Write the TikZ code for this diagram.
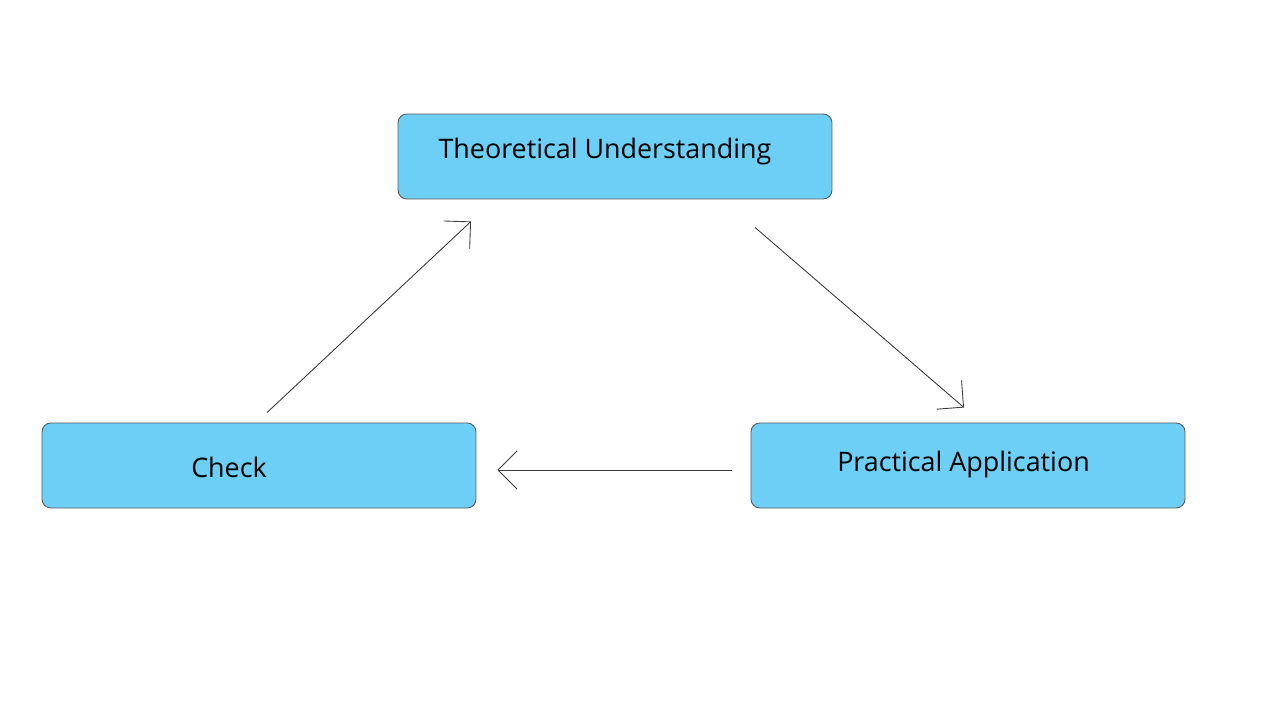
\documentclass[tikz,border=0pt]{standalone}
\usepackage{fontspec}
\setmainfont{Open Sans}
\usetikzlibrary{arrows.meta}

\definecolor{boxblue}{HTML}{6DCFF6}
\definecolor{edgegray}{HTML}{5A5A5A}
\definecolor{flowgray}{HTML}{3C3C3C}

\begin{document}
\begin{tikzpicture}[x=0.02cm, y=-0.02cm]
  \tikzstyle{stagebox} = [rectangle, draw=edgegray, fill=boxblue, rounded corners=5pt, line width=0.5pt, minimum width=8.68cm, minimum height=1.7cm]
  \tikzstyle{stagetext} = [font=\fontsize{15.3}{18}\selectfont, inner sep=0pt, anchor=base]
  \tikzstyle{flow} = [draw=flowgray, line width=0.5pt, -{Straight Barb[length=0.38cm, width=0.76cm]}]

  \useasboundingbox (0,0) rectangle (1280,720);

  \node[stagebox] (theory) at (615,156.5) {};
  \node[stagebox] (check) at (259,465.5) {};
  \node[stagebox] (practice) at (968,465.5) {};

  \node[stagetext] (theorylbl) at (605,158) {Theoretical Understanding};
  \node[stagetext] (checklbl) at (229,477) {Check};
  \node[stagetext] (practicelbl) at (963.5,471) {Practical Application};

  \draw[flow] ([shift={(8,-10)}]check.north) -- ([shift={(-144,22)}]theory.south);
  \draw[flow] ([shift={(140,28)}]theory.south) -- ([shift={(-4,-15)}]practice.north);
  \draw[flow] ([shift={(-19,4.5)}]practice.west) -- ([shift={(21,4.5)}]check.east);
\end{tikzpicture}
\end{document}
